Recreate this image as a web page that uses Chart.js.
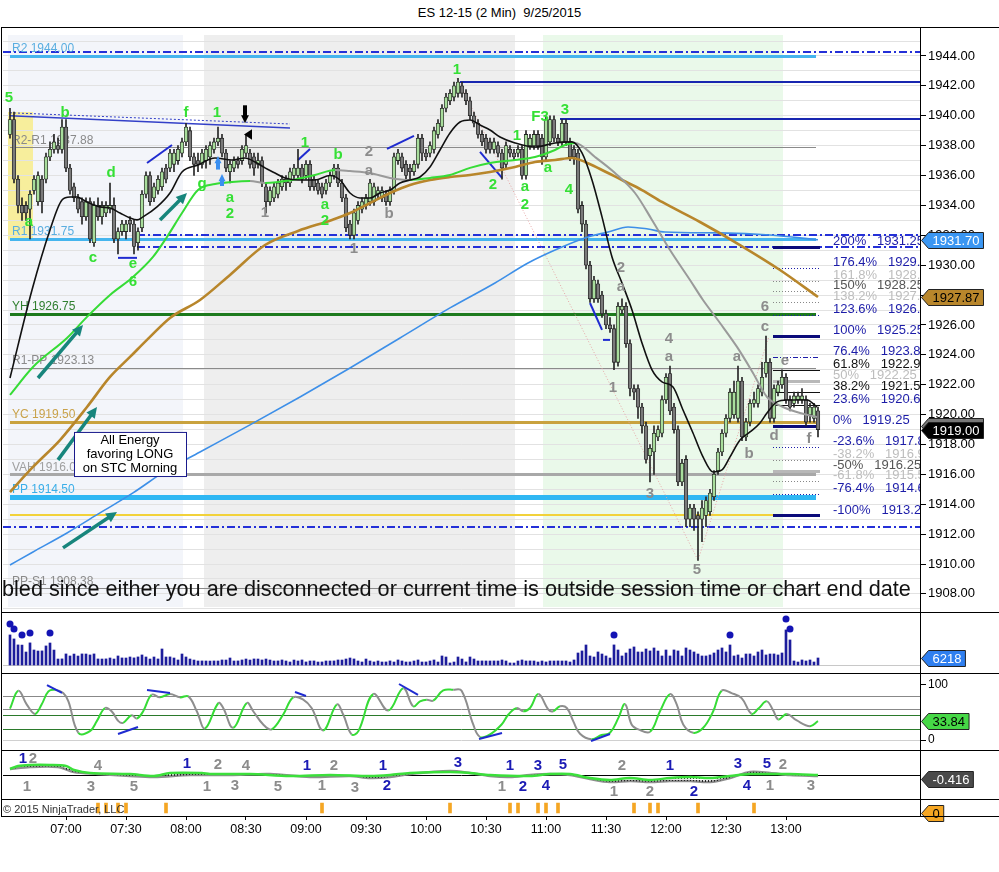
<!DOCTYPE html>
<html>
<head>
<meta charset="utf-8">
<title>ES 12-15 (2 Min) 9/25/2015</title>
<script src="https://cdn.jsdelivr.net/npm/chart.js@4.4.1/dist/chart.umd.min.js"></script>
<style>
  body { margin: 0; background: #fff; font-family: "Liberation Sans", Arial, sans-serif; }
  #wrap { position: relative; width: 999px; height: 872px; overflow: hidden; }
  #title { position: absolute; top: 5px; left: 0; width: 999px; text-align: center; font-size: 13px; }
  canvas { position: absolute; left: 3px; }
  .hl { position: absolute; left: 1px; width: 998px; height: 1px; background: #000; }
  .vl { position: absolute; left: 1px; top: 27px; width: 1px; height: 790px; background: #000; }
</style>
</head>
<body>
<div id="wrap">
  <div id="title">ES 12-15 (2 Min)&nbsp; 9/25/2015</div>
  <canvas id="price" width="996" height="585" style="top:27px"></canvas>
  <canvas id="volume" width="996" height="61" style="top:612px"></canvas>
  <canvas id="osc" width="996" height="77" style="top:673px"></canvas>
  <canvas id="hist" width="996" height="49" style="top:750px"></canvas>
  <canvas id="marks" width="996" height="50" style="top:799px"></canvas>
  <div class="hl" style="top:27px"></div>
  <div class="hl" style="top:612px"></div>
  <div class="hl" style="top:673px"></div>
  <div class="hl" style="top:750px"></div>
  <div class="hl" style="top:799px"></div>
  <div class="hl" style="top:816px"></div>
  <div class="vl"></div>
</div>
<script>
// 2 minute bars, first one at 06:32
const barStart = 6 * 60 + 32;
const barMinutes = 2;
const timeLabels = ['07:00', '07:30', '08:00', '08:30', '09:00', '09:30', '10:00', '10:30', '11:00', '11:30', '12:00', '12:30', '13:00'];

const opens = [
  1938.75, 1939.75, 1935.75, 1934.0, 1934.0, 1933.75, 1935.0, 1934.25, 1935.75, 1935.75,
  1937.25, 1937.75, 1938.0, 1937.75, 1939.25, 1936.5, 1935.25, 1934.5, 1934.25, 1933.25,
  1934.25, 1931.5, 1934.0, 1933.25, 1933.5, 1933.75, 1934.0, 1931.75, 1932.25, 1932.25,
  1933.0, 1932.75, 1931.5, 1932.5, 1934.75, 1936.0, 1934.5, 1935.0, 1935.25, 1936.5,
  1936.5, 1936.75, 1937.0, 1937.5, 1938.25, 1939.0, 1937.25, 1937.0, 1936.75, 1937.0,
  1937.25, 1937.75, 1938.25, 1938.5, 1937.5, 1936.25, 1936.5, 1937.0, 1937.0, 1937.5,
  1937.5, 1937.25, 1936.75, 1937.0, 1935.25, 1934.25, 1934.5, 1934.75, 1935.25, 1935.75,
  1935.5, 1936.0, 1936.0, 1936.5, 1936.0, 1936.75, 1935.75, 1935.5, 1935.25, 1935.0,
  1935.5, 1936.0, 1936.5, 1935.5, 1934.5, 1932.75, 1932.0, 1933.0, 1933.75, 1934.0,
  1934.25, 1934.25, 1934.75, 1934.5, 1934.75, 1934.25, 1935.0, 1937.0, 1937.25, 1936.75,
  1936.5, 1936.25, 1936.75, 1938.5, 1937.5, 1937.5, 1937.75, 1938.75, 1939.25, 1940.5,
  1941.0, 1941.25, 1941.5, 1942.0, 1941.5, 1941.0, 1940.0, 1939.5, 1938.75, 1938.5,
  1938.25, 1937.75, 1938.0, 1937.5, 1936.75, 1937.75, 1937.5, 1937.5, 1937.75, 1936.0,
  1938.0, 1938.0, 1938.75, 1938.5, 1937.25, 1938.25, 1939.75, 1938.5, 1938.25, 1939.5,
  1938.25, 1937.75, 1937.5, 1934.0, 1932.75, 1930.0, 1927.75, 1928.75, 1928.0, 1926.75,
  1926.0, 1925.75, 1923.5, 1927.0, 1927.25, 1924.75, 1921.75, 1921.75, 1920.5, 1919.25,
  1917.25, 1917.5, 1918.5, 1918.75, 1921.0, 1922.75, 1920.5, 1919.0, 1915.5, 1917.0,
  1913.0, 1913.75, 1913.25, 1913.0, 1913.25, 1913.5, 1914.5, 1916.25, 1917.5, 1918.75,
  1919.75, 1920.0, 1919.75, 1922.25, 1918.5, 1919.5, 1920.75, 1920.75, 1921.5, 1922.75,
  1923.5, 1919.75, 1921.5, 1922.0, 1922.5, 1921.0, 1920.75, 1921.0, 1921.0, 1921.0,
  1920.0, 1919.75, 1920.25
];
const highs = [
  1940.5, 1940.25, 1936.0, 1934.5, 1934.25, 1935.0, 1936.0, 1936.25, 1936.0, 1937.5,
  1938.25, 1938.75, 1938.5, 1939.75, 1939.75, 1936.75, 1935.5, 1934.75, 1934.5, 1934.5,
  1934.5, 1934.25, 1934.5, 1934.25, 1934.25, 1935.5, 1934.5, 1932.5, 1933.0, 1933.0,
  1933.25, 1933.0, 1932.5, 1935.0, 1936.25, 1936.25, 1935.5, 1936.0, 1936.5, 1936.75,
  1937.75, 1937.75, 1938.0, 1938.5, 1939.5, 1939.25, 1937.5, 1937.5, 1937.75, 1938.0,
  1938.25, 1938.5, 1939.25, 1938.75, 1937.75, 1937.0, 1937.25, 1937.25, 1938.0, 1938.75,
  1937.75, 1937.5, 1937.5, 1937.25, 1935.5, 1935.25, 1935.5, 1935.75, 1936.0, 1936.0,
  1936.5, 1936.75, 1937.75, 1936.75, 1937.0, 1937.0, 1936.0, 1935.75, 1935.5, 1935.75,
  1936.25, 1936.75, 1936.75, 1935.75, 1934.75, 1933.0, 1933.75, 1934.25, 1934.5, 1934.75,
  1935.75, 1935.5, 1935.25, 1935.25, 1935.0, 1935.25, 1937.5, 1937.75, 1937.5, 1937.0,
  1936.75, 1937.0, 1938.75, 1938.75, 1937.75, 1938.25, 1939.25, 1939.75, 1940.75, 1941.5,
  1941.75, 1942.25, 1942.5, 1942.25, 1941.75, 1941.25, 1940.25, 1939.75, 1939.0, 1938.75,
  1938.5, 1938.5, 1938.25, 1937.75, 1938.25, 1938.0, 1937.75, 1938.0, 1938.0, 1939.0,
  1938.75, 1939.0, 1939.0, 1938.75, 1940.0, 1940.0, 1940.0, 1938.75, 1939.75, 1939.75,
  1938.5, 1938.0, 1937.75, 1934.25, 1933.0, 1930.25, 1929.25, 1929.0, 1928.25, 1927.0,
  1926.5, 1926.0, 1927.5, 1927.75, 1927.5, 1925.0, 1922.0, 1922.0, 1920.75, 1919.5,
  1918.0, 1919.25, 1919.25, 1921.25, 1922.75, 1923.25, 1920.75, 1919.25, 1917.0, 1917.25,
  1914.0, 1914.0, 1913.5, 1914.25, 1914.5, 1915.0, 1916.25, 1917.75, 1919.0, 1920.0,
  1921.75, 1922.25, 1923.25, 1922.5, 1919.75, 1921.0, 1921.5, 1922.0, 1923.5, 1925.25,
  1923.75, 1922.0, 1922.25, 1923.0, 1922.75, 1921.25, 1921.5, 1921.5, 1921.75, 1921.25,
  1920.75, 1920.75, 1920.5
];
const lows = [
  1938.5, 1935.5, 1933.5, 1933.0, 1933.0, 1931.75, 1934.75, 1934.0, 1933.5, 1935.5,
  1937.0, 1937.5, 1937.5, 1937.5, 1936.25, 1934.75, 1934.25, 1933.5, 1932.75, 1933.0,
  1931.5, 1931.25, 1933.0, 1932.75, 1933.25, 1933.5, 1931.5, 1930.75, 1932.0, 1931.75,
  1932.25, 1930.75, 1931.0, 1932.25, 1934.5, 1934.0, 1934.25, 1934.75, 1935.0, 1935.5,
  1936.25, 1936.25, 1936.75, 1937.25, 1938.0, 1937.0, 1936.0, 1936.25, 1936.5, 1936.5,
  1936.75, 1937.5, 1938.0, 1937.25, 1936.25, 1935.5, 1936.25, 1936.5, 1936.75, 1937.25,
  1936.5, 1936.0, 1936.5, 1935.25, 1933.5, 1934.0, 1934.25, 1934.5, 1935.0, 1935.0,
  1935.25, 1935.75, 1935.75, 1935.5, 1935.75, 1935.0, 1935.0, 1934.75, 1934.5, 1934.75,
  1935.25, 1935.75, 1935.25, 1934.25, 1932.25, 1931.75, 1931.75, 1932.75, 1933.5, 1933.75,
  1934.0, 1934.0, 1934.5, 1934.25, 1934.0, 1934.0, 1934.75, 1936.75, 1936.25, 1935.75,
  1935.75, 1936.0, 1936.5, 1937.0, 1937.0, 1937.25, 1937.5, 1938.5, 1939.0, 1940.25,
  1940.75, 1941.0, 1941.25, 1941.25, 1940.75, 1939.75, 1939.25, 1938.5, 1938.0, 1937.5,
  1937.5, 1937.5, 1937.25, 1935.75, 1936.5, 1937.25, 1937.0, 1937.25, 1935.75, 1935.75,
  1937.75, 1937.75, 1937.75, 1936.75, 1937.0, 1938.0, 1938.25, 1938.0, 1938.0, 1938.0,
  1937.0, 1936.75, 1933.5, 1932.25, 1929.75, 1927.5, 1927.5, 1927.5, 1926.5, 1925.75,
  1925.5, 1923.0, 1923.25, 1926.75, 1924.5, 1921.25, 1921.0, 1919.75, 1918.75, 1916.75,
  1915.5, 1916.0, 1918.25, 1918.5, 1920.75, 1920.0, 1918.75, 1915.25, 1915.25, 1912.5,
  1912.5, 1912.25, 1910.25, 1911.5, 1912.5, 1913.25, 1914.25, 1916.0, 1917.25, 1918.5,
  1919.5, 1919.75, 1919.5, 1918.25, 1918.25, 1919.25, 1920.5, 1920.5, 1921.25, 1922.5,
  1919.5, 1919.5, 1921.25, 1921.75, 1920.75, 1920.25, 1920.5, 1920.75, 1920.75, 1919.25,
  1919.5, 1919.5, 1918.5
];
const closes = [
  1939.75, 1935.75, 1934.0, 1933.5, 1933.5, 1934.75, 1935.75, 1936.0, 1934.25, 1937.25,
  1937.75, 1938.25, 1937.75, 1939.25, 1936.5, 1935.0, 1934.5, 1933.75, 1933.25, 1934.25,
  1931.75, 1934.0, 1933.25, 1934.0, 1934.0, 1934.0, 1931.75, 1932.25, 1932.75, 1932.75,
  1932.75, 1931.25, 1932.25, 1934.75, 1936.0, 1934.25, 1935.25, 1935.75, 1936.25, 1935.75,
  1937.5, 1937.5, 1937.75, 1938.25, 1939.25, 1937.25, 1936.75, 1936.75, 1937.5, 1937.75,
  1938.0, 1938.25, 1938.5, 1937.5, 1936.5, 1936.75, 1937.0, 1936.75, 1937.75, 1938.0,
  1936.75, 1936.5, 1937.0, 1935.5, 1934.25, 1935.0, 1935.25, 1935.5, 1935.75, 1935.5,
  1936.25, 1936.5, 1936.5, 1935.75, 1936.75, 1935.25, 1935.25, 1935.0, 1934.75, 1935.5,
  1936.0, 1936.5, 1935.5, 1934.5, 1932.5, 1932.0, 1933.5, 1934.0, 1934.25, 1934.5,
  1935.5, 1935.25, 1935.0, 1935.0, 1934.25, 1935.0, 1937.25, 1937.5, 1936.5, 1936.0,
  1936.25, 1936.75, 1938.5, 1937.5, 1937.25, 1938.0, 1939.0, 1939.5, 1940.5, 1941.25,
  1941.5, 1942.0, 1942.25, 1941.5, 1941.0, 1940.0, 1939.5, 1938.75, 1938.25, 1937.75,
  1937.75, 1938.25, 1937.5, 1936.5, 1938.0, 1937.5, 1937.25, 1937.75, 1936.0, 1938.75,
  1938.5, 1938.75, 1938.0, 1937.25, 1939.75, 1939.75, 1938.5, 1938.25, 1939.5, 1938.25,
  1937.25, 1937.25, 1933.75, 1932.75, 1930.0, 1927.75, 1929.0, 1927.75, 1926.75, 1926.0,
  1925.75, 1923.5, 1927.25, 1927.25, 1924.75, 1921.75, 1921.5, 1920.5, 1919.25, 1917.0,
  1917.75, 1918.75, 1919.0, 1921.0, 1922.5, 1920.25, 1919.0, 1915.5, 1916.75, 1913.0,
  1913.75, 1913.0, 1913.0, 1913.75, 1914.25, 1914.75, 1916.0, 1917.5, 1918.75, 1919.75,
  1921.5, 1921.5, 1922.25, 1918.5, 1919.5, 1920.75, 1921.0, 1921.75, 1922.5, 1923.5,
  1919.75, 1921.75, 1922.0, 1922.5, 1921.0, 1920.5, 1921.25, 1921.25, 1921.25, 1919.5,
  1920.5, 1920.5, 1919.0
];
const volumes = [
  26650, 23100, 17800, 17650, 11500, 19600, 13300, 12400, 12500, 16900,
  19500, 13250, 5300, 5400, 9800, 8000, 9700, 7950, 9800, 9750,
  8900, 9800, 5350, 5300, 5400, 6200, 5300, 8000, 6250, 6200,
  7100, 6300, 7150, 8900, 7100, 5300, 7100, 5350, 14200, 7100,
  7150, 6200, 4450, 9750, 7100, 5300, 4400, 3550, 3600, 3550,
  3500, 3600, 3550, 4450, 4400, 6200, 3550, 3600, 4450, 5300,
  4400, 5350, 5300, 4450, 5300, 4400, 3550, 3600, 4450, 3550,
  2650, 4400, 3550, 4450, 2700, 3550, 3600, 2650, 2700, 3550,
  3550, 3600, 4450, 4400, 5300, 6200, 5350, 3550, 2650, 5300,
  3550, 2700, 3550, 2650, 2700, 3600, 2650, 4450, 3550, 2650,
  2700, 3550, 4450, 2650, 2700, 3550, 4450, 2650, 8000, 7100,
  1800, 2650, 7100, 5300, 2700, 7100, 5300, 3550, 3600, 3550,
  3550, 3600, 3550, 4450, 3550, 1800, 1750, 3550, 4450, 3550,
  3600, 3550, 2650, 3550, 2700, 3550, 3550, 3600, 3550, 3550,
  2650, 4450, 10650, 12450, 17750, 8000, 7100, 11550, 9750, 8000,
  6200, 17800, 13300, 8000, 10650, 14200, 16000, 11550, 11500, 14200,
  12450, 15100, 12400, 8000, 13300, 8000, 13350, 12450, 8000, 15100,
  13300, 11550, 9750, 8000, 8000, 8900, 10650, 13300, 15100, 11550,
  17750, 8000, 8900, 6200, 9750, 9800, 8000, 11550, 13300, 8900,
  9750, 9800, 8900, 10650, 31100, 22200, 3550, 2650, 4450, 3550,
  4450, 2650, 6218
];
const volumeDotBars = [0, 1, 3, 5, 10, 151, 180, 194, 195];
const volumeDotValues = [36400, 32000, 26600, 28400, 28400, 26600, 26600, 40800, 32000];

// moving averages as [bar, price]
const fastAvg = [[0,1922.45],[5.5,1928.34],[10,1932.36],[13,1934.36],[15,1934.56],[16.75,1934.56],[19.25,1934.23],[22.5,1933.9],[25,1933.83],[27.5,1933.49],[30,1933.16],[31.75,1933.03],[33.25,1933.23],[36.75,1933.9],[40,1934.83],[43,1936.24],[47,1936.71],[51.25,1937.17],[55.5,1937.04],[58.75,1937.17],[61.25,1936.91],[63.75,1936.51],[66.25,1936.17],[68.75,1935.84],[72,1935.7],[76.25,1935.7],[80,1936.0],[82.5,1935.7],[85,1934.83],[87.5,1934.5],[90,1934.5],[92.5,1934.83],[95,1935.03],[97.5,1935.5],[100,1935.7],[102.5,1935.9],[105,1936.57],[107.5,1937.71],[110,1938.85],[112.5,1939.58],[115,1939.72],[117.5,1939.38],[120,1939.05],[122.5,1938.58],[126.25,1938.18],[131.25,1937.91],[136.25,1938.18],[140.5,1938.25],[143,1937.51],[145.5,1935.7],[148,1933.23],[150.5,1930.55],[153,1928.81],[155.5,1927.0],[158,1924.79],[160.5,1922.99],[163,1922.19],[165.75,1921.85],[168.25,1920.31],[170.75,1918.77],[173.25,1917.17],[175.75,1916.16],[178,1916.3],[180,1917.17],[182.5,1918.3],[185,1918.84],[187.5,1919.44],[189.25,1920.11],[191.75,1920.85],[194.25,1920.98],[196.75,1920.98],[199.25,1920.98],[201.75,1920.51]];
const midAvg = [[0,1921.32],[5.75,1923.19],[14.25,1925.13],[19.25,1926.54],[25,1928.01],[30.75,1929.21],[35.75,1930.55],[39.25,1931.89],[43,1933.49],[47,1935.03],[51.25,1935.43],[55.5,1935.57],[60,1935.63],[63.75,1935.5],[70.5,1935.7],[76.25,1936.04],[81.25,1936.37],[85,1936.3],[90,1936.17],[95,1935.84],[100,1935.7],[105,1935.84],[110,1936.04],[115,1936.51],[120,1936.84],[126.25,1937.04],[131.25,1937.24],[136.25,1937.71],[138.75,1938.04],[141.25,1938.18],[146.25,1937.24],[151.25,1936.17],[156.25,1934.83],[160.5,1933.03],[165,1931.02],[170,1929.01],[173.25,1927.67],[177.5,1926.13],[181.75,1924.53],[185.75,1922.79],[189.25,1921.18],[193.25,1920.51],[197.5,1920.11],[201.75,1919.84]];
const slowAvg = [[0,1914.82],[5.75,1916.5],[12.5,1918.3],[19.25,1920.51],[25,1922.52],[30,1923.86],[35,1925.2],[40,1926.47],[47.5,1927.67],[55,1929.35],[63.75,1931.35],[72,1932.29],[80.5,1933.03],[85,1933.49],[90,1934.16],[95,1934.83],[100,1935.37],[105,1935.7],[110,1935.9],[115,1936.04],[120,1936.24],[126.25,1936.57],[131.25,1936.91],[136.25,1937.04],[140.5,1937.17],[143.75,1936.91],[148,1936.37],[153,1935.7],[158,1935.03],[163,1934.23],[172.5,1932.89],[182.5,1931.35],[192.5,1929.68],[202,1927.87]];
const longAvg = [[0,1909.94],[5.75,1910.81],[14.25,1912.08],[22.5,1913.42],[30.75,1914.76],[39.25,1916.3],[47.5,1917.5],[60,1919.31],[72.5,1921.18],[85,1923.12],[97.5,1925.13],[110,1927.14],[121.25,1928.81],[129.5,1930.15],[138,1931.22],[144.5,1931.89],[149.5,1932.22],[154.5,1932.56],[159.5,1932.42],[163.75,1932.22],[177.5,1932.16],[190,1932.02],[202,1931.7]];

const levelNames = ['R2', 'R2-R1', 'R1', 'YH', 'R1-PP', 'YC', 'VAH', 'PP', 'PP-S1'];
const levelValues = [1944.00, 1937.88, 1931.75, 1926.75, 1923.13, 1919.50, 1916.00, 1914.50, 1908.38];
const dashDotLevels = [1944.25, 1932.0, 1931.25, 1912.5];
const fibPercents = [200, 176.4, 161.8, 150, 138.2, 123.6, 100, 76.4, 61.8, 50, 38.2, 23.6, 0, -23.6, -38.2, -50, -61.8, -76.4, -100];
const fibPrices = [1931.25, 1929.83, 1928.96, 1928.25, 1927.54, 1926.67, 1925.25, 1923.83, 1922.96, 1922.25, 1921.54, 1920.67, 1919.25, 1917.83, 1916.96, 1916.25, 1915.54, 1914.67, 1913.25];

// wave labels on the price panel: [text, bar, price]
const greenMarks = [['5',-0.25,1941.19],['a',4.75,1932.89],['b',13.75,1940.19],['c',20.75,1930.48],['d',25.25,1936.17],['e',30.75,1930.08],['6',30.75,1928.88],['f',44,1940.19],['1',51.75,1940.19],['g',48,1935.43],['a',55,1934.5],['2',55,1933.43],['1',73.75,1938.18],['b',82,1937.38],['a',78.75,1934.03],['2',78.75,1932.96],['1',111.75,1943.06],['2',120.75,1935.37],['1',126.75,1938.65],['a',128.75,1935.24],['2',128.75,1934.03],['F3',132.5,1939.92],['3',138.75,1940.39],['a',134.5,1936.51],['4',139.75,1935.03]];
const grayMarks = [['1',63.75,1933.49],['2',89.75,1937.57],['a',89.75,1936.3],['b',94.75,1933.43],['1',86,1931.08],['2',152.75,1929.81],['a',152.75,1928.54],['1',150.75,1921.78],['3',160,1914.69],['4',164.75,1925.06],['a',164.75,1923.86],['5',171.75,1909.6],['a',181.75,1923.86],['b',184.75,1917.37],['6',188.75,1927.2],['c',188.75,1925.87],['e',193.75,1923.59],['d',191,1918.57],['f',199.75,1918.37]];

// oscillator, sampled [bar, value]
const oscValues = [[0,56.6],[2.1,88.8],[4.2,63.8],[6.25,47],[7.9,63.8],[9.6,87.5],[11.25,90.5],[13.3,84.5],[14.6,69.6],[17.1,13],[20,16],[21.7,34],[23.75,57.7],[25.4,51.8],[27.1,34],[28.3,31],[30.4,44.6],[31.7,38.8],[33.3,51.8],[35.4,81.6],[37.5,76.8],[40,82.7],[42.5,76.8],[44.6,78.6],[46.7,51.8],[48.75,20.9],[52.1,66.6],[53.3,57.7],[55.8,22],[59.2,66.6],[60.8,51.8],[63.3,28],[65.4,19.1],[68.3,45.9],[70.8,76.8],[73.3,72.7],[75.4,57.7],[78.3,17.3],[81.7,63.8],[83.3,45.9],[85.4,10.2],[87.1,16],[90.8,82.7],[94.6,53],[98.3,93.4],[100.8,60.7],[102.5,69.6],[104.2,72.7],[105.8,70.9],[108.3,89.3],[110.8,90.5],[112.9,88.8],[115.8,28],[117.5,5.4],[120,10.2],[122.9,28],[124.6,45.9],[126.7,57.7],[128.3,51.8],[130,57.7],[132.1,82.7],[134.6,54.8],[135.8,51.8],[137.5,60.7],[139.2,57.7],[140.8,34],[142.5,11.3],[145.4,1.3],[147.9,8.9],[150,13],[152.1,39.8],[153.75,64.8],[155.4,28],[157.1,19.1],[160,14.8],[162.5,51.8],[165,82.7],[166.7,63.8],[168.3,28],[170.8,13],[173.3,22],[175.8,51.8],[177.9,88.8],[180.4,84.5],[182.9,75.5],[185.4,47],[187.1,56.6],[189.2,69.6],[190.8,53],[192.1,37],[194.2,47],[196.7,35.2],[200,25],[202,33.84]];
const oscLevels = [80, 55, 45, 20, 0];
const oscDivergence = [[9.25,99,13,84.7],[27,10.8,32,23.4],[34.25,90.1,40,84.7],[71.25,86.5,74,79.3],[97.25,100.9,102,81.1],[117.25,1.8,123,12.6],[145.25,-1.8,150,10.8]];

// lower swing panel, sampled [bar, value]
const swingGreen = [[0,0.6],[2,0.9],[5,1.0],[10,1.0],[14,0.9],[16,0.5],[20,0.2],[30,0.1],[36,-0.1],[40,0.2],[48,0.2],[50,0.1],[60,0.1],[70,-0.1],[80,0.0],[90,-0.1],[95,0.0],[100,0.2],[110,0.3],[115,0.2],[120,0.0],[130,-0.1],[135,0.1],[140,0.1],[145,-0.3],[150,-0.5],[155,-0.3],[160,-0.5],[165,-0.3],[170,-0.2],[175,-0.3],[180,-0.1],[185,0.1],[190,0.1],[195,0.1],[202,0.0]];
const swingGray = [[0,0.6],[5,0.8],[12,0.8],[16,0.3],[22,0.1],[30,-0.1],[36,-0.2],[45,0.0],[55,0.0],[65,0.1],[75,-0.2],[85,-0.1],[90,-0.3],[95,-0.2],[100,0.1],[110,0.4],[115,0.2],[120,-0.1],[125,-0.2],[130,0.0],[135,0.1],[140,0.0],[145,-0.4],[150,-0.7],[155,-0.6],[160,-0.7],[165,-0.6],[170,-0.6],[175,-0.7],[180,-0.3],[185,0.3],[190,0.2],[195,0.0],[202,-0.1]];
const swingLabels = [['1',3.25,1.6,'b'],['2',5.75,1.6,'g'],['1',4.25,-1.2,'g'],['4',22,0.9,'g'],['3',20.25,-1.2,'g'],['5',31,-1.2,'g'],['1',44.25,1.1,'b'],['2',52,1.0,'g'],['4',59,0.9,'g'],['1',49.25,-1.2,'g'],['3',56.25,-1.1,'g'],['5',67,-1.2,'g'],['1',74.25,0.9,'b'],['2',81,0.9,'g'],['1',78,-1.1,'g'],['3',86.25,-1.3,'g'],['1',93.25,0.9,'b'],['2',94.25,-1.1,'b'],['3',112,1.2,'b'],['1',125,0.9,'b'],['1',123,-1.2,'g'],['2',128.25,-1.2,'b'],['3',132,0.9,'b'],['4',134,-1.1,'b'],['5',138.25,1.0,'b'],['2',153,0.9,'g'],['1',151,-1.7,'g'],['1',165,0.9,'b'],['2',160,-1.7,'g'],['2',171,-1.7,'b'],['3',182,1.1,'b'],['4',184.25,-1.1,'b'],['5',189.25,1.1,'b'],['2',193.25,1.0,'g'],['1',190,-1.1,'g'],['3',200.25,-1.1,'g']];

const signalBars = [22, 24, 27, 29, 39, 78, 110, 125, 127, 132, 134, 137, 156, 160, 162, 172, 186];

// ---------------------------------------------------------------
const FONT = '"Liberation Sans", Arial, sans-serif';
Chart.defaults.font.family = FONT;
const X_MIN = -1.75, X_MAX = 227.5;
const bars = opens.map((_, i) => i);
const xy = a => a.map(([x, y]) => ({ x, y }));
const toMin = s => { const [h, m] = s.split(':').map(Number); return h * 60 + m; };
const timeOf = b => {
  const m = barStart + b * barMinutes;
  return String(Math.floor(m / 60)).padStart(2, '0') + ':' + String(m % 60).padStart(2, '0');
};
const last = a => a[a.length - 1];
// keep tick labels from shrinking the plot area
const noPad = s => { s.paddingTop = 0; s.paddingBottom = 0; s.paddingLeft = 0; s.paddingRight = 0; };

function baseOptions(ymin, ymax, yExtra) {
  return {
    responsive: false, devicePixelRatio: 1, animation: false,
    layout: { padding: 0, autoPadding: false },
    plugins: { legend: { display: false }, tooltip: { enabled: false } },
    scales: {
      x: { type: 'linear', min: X_MIN, max: X_MAX, offset: false, display: false },
      y: Object.assign({
        position: 'right', min: ymin, max: ymax,
        afterFit: s => { s.width = 79; noPad(s); },
        border: { color: '#000' },
        grid: { drawOnChartArea: false, drawTicks: false },
        ticks: { display: false }
      }, yExtra || {})
    }
  };
}

function clipArea(chart) {
  const a = chart.chartArea, ctx = chart.ctx;
  ctx.save();
  ctx.beginPath();
  ctx.rect(a.left, a.top, a.right - a.left, a.bottom - a.top);
  ctx.clip();
}

function hline(chart, v, x0, x1, color, width, dash) {
  const ctx = chart.ctx, y = Math.round(chart.scales.y.getPixelForValue(v)) + (width % 2 ? 0.5 : 0);
  ctx.beginPath();
  ctx.setLineDash(dash || []);
  ctx.strokeStyle = color; ctx.lineWidth = width;
  ctx.moveTo(x0, y); ctx.lineTo(x1, y); ctx.stroke();
  ctx.setLineDash([]);
}

function arrow(ctx, x0, y0, x1, y1, color, width, head) {
  const ang = Math.atan2(y1 - y0, x1 - x0);
  ctx.strokeStyle = color; ctx.fillStyle = color; ctx.lineWidth = width;
  ctx.beginPath();
  ctx.moveTo(x0, y0);
  ctx.lineTo(x1 - Math.cos(ang) * head * 0.8, y1 - Math.sin(ang) * head * 0.8);
  ctx.stroke();
  ctx.beginPath();
  ctx.moveTo(x1, y1);
  ctx.lineTo(x1 - head * Math.cos(ang - 0.45), y1 - head * Math.sin(ang - 0.45));
  ctx.lineTo(x1 - head * Math.cos(ang + 0.45), y1 - head * Math.sin(ang + 0.45));
  ctx.closePath(); ctx.fill();
}

function axisBox(chart, value, text, bg, fg) {
  const ctx = chart.ctx, a = chart.chartArea;
  const y = Math.round(chart.scales.y.getPixelForValue(value)) + 0.5;
  ctx.save();
  ctx.font = '13px ' + FONT;
  const w = ctx.measureText(text).width + 8;
  const x0 = a.right + 1.5, x1 = x0 + 7 + w;
  ctx.beginPath();
  ctx.moveTo(x0, y); ctx.lineTo(x0 + 7, y - 8); ctx.lineTo(x1, y - 8);
  ctx.lineTo(x1, y + 8); ctx.lineTo(x0 + 7, y + 8); ctx.closePath();
  ctx.fillStyle = bg; ctx.fill();
  ctx.strokeStyle = '#222'; ctx.lineWidth = 1; ctx.stroke();
  ctx.fillStyle = fg; ctx.textBaseline = 'middle'; ctx.textAlign = 'left';
  ctx.fillText(text, x0 + 11, y + 0.5);
  ctx.restore();
}

// ---------------- price panel ----------------
const levelStyle = {
  'R2':    { color: '#45b5ee', text: '#5aaee0', width: 3 },
  'R2-R1': { color: '#8a8a8a', text: '#8a8a8a', width: 1 },
  'R1':    { color: '#45b5ee', text: '#5aaee0', width: 3 },
  'YH':    { color: '#1d7a1d', text: '#2f7f2f', width: 3 },
  'R1-PP': { color: '#8a8a8a', text: '#8a8a8a', width: 1 },
  'YC':    { color: '#c9a23e', text: '#c9a24a', width: 3 },
  'VAH':   { color: '#a8a8a8', text: '#a0a0a0', width: 3 },
  'PP':    { color: '#2fb7f3', text: '#3aaee8', width: 5 },
  'PP-S1': { color: '#8a8a8a', text: '#8a8a8a', width: 1 }
};
const fibStyle = p => {
  if ([161.8, 138.2, 50, -38.2, -61.8].includes(p)) return '#bdbdbd';
  if ([150, -50].includes(p)) return '#555';
  if ([61.8, 38.2].includes(p)) return '#111';
  return '#1c1ca8';
};
const fibLine = p => {
  if ([200, 100, 0, -100].includes(p)) return ['#0b0b7a', 3, []];
  if ([50, -50].includes(p)) return ['#b8b8b8', 3, []];
  if ([61.8, 38.2, 23.6].includes(p)) return ['#111', 1, []];
  if (p === 76.4) return ['#1c1ca8', 1, [5, 2, 1, 2]];
  if ([161.8, 150, 138.2, -38.2, -61.8].includes(p)) return ['#888', 1, [1, 2]];
  return ['#1c1ca8', 1, [1, 2]];
};

const priceOverlay = {
  id: 'priceOverlay',
  beforeDraw(chart) {
    const { ctx, chartArea: a, scales: { x, y } } = chart;
    ctx.save();
    const top = a.top + 8, bot = a.bottom - 5;
    [[-0.5, 43.25, '#f3f5fa'], [48.5, 126.25, '#eeeeee'], [133.25, 193.25, '#eaf9ea']].forEach(([b0, b1, c]) => {
      ctx.fillStyle = c;
      ctx.fillRect(x.getPixelForValue(b0), top, x.getPixelForValue(b1) - x.getPixelForValue(b0), bot - top);
    });
    ctx.fillStyle = '#f7ee9c';
    const y0 = y.getPixelForValue(1940.25), y1 = y.getPixelForValue(1931.7);
    ctx.fillRect(x.getPixelForValue(-0.5), y0, x.getPixelForValue(5.75) - x.getPixelForValue(-0.5), y1 - y0);
    ctx.restore();
  },
  beforeDatasetsDraw(chart) {
    const { ctx, chartArea: a, scales: { x, y } } = chart;
    clipArea(chart);
    const px = b => x.getPixelForValue(b);
    // dash-dot blue levels
    dashDotLevels.forEach((v, i) => {
      const from = (i === 1 || i === 2) ? px(31.75) : a.left;
      hline(chart, v, from, a.right, '#2430d8', 2, [8, 3, 2, 3]);
    });
    // session highs carried right
    hline(chart, 1942.25, px(112.5), a.right, '#1826b0', 2);
    hline(chart, 1939.75, px(137.5), a.right, '#1826b0', 2);
    // pivot levels and their labels
    ctx.font = '12px ' + FONT;
    ctx.textBaseline = 'bottom';
    levelNames.forEach((n, i) => {
      const st = levelStyle[n];
      hline(chart, levelValues[i], px(0), px(201.5), st.color, st.width);
      ctx.fillStyle = st.text;
      ctx.fillText(n + ' ' + levelValues[i].toFixed(2), px(0.5), y.getPixelForValue(levelValues[i]) - 1);
    });
    hline(chart, 1913.25, px(0), px(201.5), '#f2d23a', 2);
    // fib ladder on the right
    fibPercents.forEach((p, i) => {
      const [c, w, d] = fibLine(p);
      hline(chart, fibPrices[i], px(190.75), px(202.5), c, w, d);
    });
    // thin trend lines
    ctx.lineWidth = 2; ctx.strokeStyle = '#1f2bd0';
    [[34.25,1936.84,40.5,1938.04],[72,1937.04,75,1937.78],[94.25,1937.78,101,1938.65],[117.5,1937.58,123,1935.84],
     [145,1927.47,148,1925.67],[148.25,1925,150,1925],[27,1930.49,31.75,1930.49]].forEach(([b0, p0, b1, p1]) => {
      ctx.beginPath(); ctx.moveTo(px(b0), y.getPixelForValue(p0)); ctx.lineTo(px(b1), y.getPixelForValue(p1)); ctx.stroke();
    });
    ctx.lineWidth = 1.5; ctx.strokeStyle = '#3340c8';
    ctx.beginPath(); ctx.moveTo(px(0), y.getPixelForValue(1940.0)); ctx.lineTo(px(70), y.getPixelForValue(1939.18)); ctx.stroke();
    ctx.setLineDash([2, 2]); ctx.lineWidth = 1;
    ctx.beginPath(); ctx.moveTo(px(0), y.getPixelForValue(1940.2)); ctx.lineTo(px(70), y.getPixelForValue(1939.45)); ctx.stroke();
    // faint swing zig-zag
    ctx.strokeStyle = '#e7a7a7'; ctx.setLineDash([1, 2]);
    ctx.beginPath();
    ctx.moveTo(px(111.75), y.getPixelForValue(1942.5));
    ctx.lineTo(px(172), y.getPixelForValue(1910.25));
    ctx.lineTo(px(189.75), y.getPixelForValue(1925.25));
    ctx.stroke();
    ctx.setLineDash([]);
    ctx.restore();
  },
  afterDatasetsDraw(chart) {
    const { ctx, chartArea: a, scales: { x, y } } = chart;
    const px = b => x.getPixelForValue(b), py = v => y.getPixelForValue(v);
    clipArea(chart);
    ctx.textAlign = 'center'; ctx.textBaseline = 'middle';
    ctx.font = 'bold 15px ' + FONT;
    ctx.fillStyle = '#35e035';
    greenMarks.forEach(([t, b, v]) => ctx.fillText(t, px(b), py(v)));
    ctx.fillStyle = '#8c8c8c';
    grayMarks.forEach(([t, b, v]) => ctx.fillText(t, px(b), py(v)));
    // teal arrows
    [[7,1922.45,18.25,1926.0],[12,1916.97,21.75,1920.51],[13.25,1911.08,26.75,1913.49],[37.5,1933.03,44.25,1934.83]].forEach(([b0, p0, b1, p1]) =>
      arrow(ctx, px(b0), py(p0), px(b1), py(p1), '#17857c', 3.5, 12));
    arrow(ctx, px(52), py(1936.4), px(52), py(1937.3), '#3a8ff0', 4, 8);
    arrow(ctx, px(53), py(1935.3), px(53), py(1936.1), '#3a8ff0', 4, 8);
    arrow(ctx, px(58.75), py(1940.7), px(58.75), py(1939.5), '#000', 4, 9);
    ctx.fillStyle = '#000';
    ctx.beginPath(); ctx.moveTo(px(58.5), py(1938.75)); ctx.lineTo(px(60.5), py(1939.1)); ctx.lineTo(px(60.5), py(1938.4)); ctx.fill();
    // note box
    const bx0 = px(16), bx1 = px(44), by0 = py(1918.84), by1 = py(1915.89);
    ctx.fillStyle = '#fff'; ctx.fillRect(bx0, by0, bx1 - bx0, by1 - by0);
    ctx.strokeStyle = '#1a1a8c'; ctx.lineWidth = 1; ctx.strokeRect(bx0 + 0.5, by0 + 0.5, bx1 - bx0, by1 - by0);
    ctx.fillStyle = '#000'; ctx.font = '13px ' + FONT;
    ['All Energy', 'favoring LONG', 'on STC Morning'].forEach((t, i) =>
      ctx.fillText(t, (bx0 + bx1) / 2, by0 + 8 + i * 14));
    // fib labels
    ctx.textAlign = 'left'; ctx.textBaseline = 'bottom'; ctx.font = '13px ' + FONT;
    fibPercents.forEach((p, i) => {
      ctx.fillStyle = fibStyle(p);
      ctx.fillText(p + '%   ' + fibPrices[i].toFixed(2), px(205.75), py(fibPrices[i]) + 1);
    });
    // connection message
    const msg = 'bled since either you are disconnected or current time is outside session time or chart end date';
    ctx.font = '20px ' + FONT;
    const size = 20 * 909 / ctx.measureText(msg).width;
    ctx.font = size.toFixed(2) + 'px ' + FONT;
    ctx.fillStyle = '#111'; ctx.textBaseline = 'alphabetic';
    ctx.fillText(msg, a.left - 1, a.bottom - 16);
    ctx.restore();
  },
  afterDraw(chart) {
    axisBox(chart, 1931.7, last(longAvg)[1].toFixed(2), '#3a96f2', '#fff');
    axisBox(chart, 1927.87, last(slowAvg)[1].toFixed(2), '#b8862b', '#000');
    axisBox(chart, 1919.25, '1919.25', '#777', '#000');
    axisBox(chart, last(closes), last(closes).toFixed(2), '#000', '#fff');
  }
};

const priceTicks = [];
for (let v = 1907; v <= 1945; v++) priceTicks.push(v);

const priceOpts = baseOptions(1906.79, 1945.94, {
  afterBuildTicks: s => { s.ticks = priceTicks.map(v => ({ value: v })); },
  grid: { drawOnChartArea: true, color: '#e2e2e2', drawTicks: true, tickLength: 6,
          tickColor: c => (c.tick && c.tick.value % 2 === 0) ? '#000' : 'rgba(0,0,0,0)' },
  ticks: { display: true, autoSkip: false, padding: 2, color: '#000', font: { size: 13 },
           callback: v => v % 2 === 0 ? v.toFixed(2) : '' }
});

new Chart(document.getElementById('price'), {
  type: 'bar',
  data: {
    datasets: [
      { type: 'line', data: xy(fastAvg), borderColor: '#111', borderWidth: 1.6, pointRadius: 0, cubicInterpolationMode: 'monotone', order: 1 },
      { type: 'line', data: xy(midAvg), borderColor: '#36dc36', borderWidth: 2, pointRadius: 0, cubicInterpolationMode: 'monotone', order: 2,
        segment: { borderColor: c => c.p1.parsed.y >= c.p0.parsed.y ? '#36dc36' : '#9a9a9a' } },
      { type: 'line', data: xy(slowAvg), borderColor: '#b8862b', borderWidth: 2.6, pointRadius: 0, cubicInterpolationMode: 'monotone', order: 3 },
      { type: 'line', data: xy(longAvg), borderColor: '#3d8fe8', borderWidth: 1.6, pointRadius: 0, cubicInterpolationMode: 'monotone', order: 4 },
      { data: bars.map(i => ({ x: i, y: [opens[i], closes[i]] })),
        backgroundColor: bars.map(i => closes[i] >= opens[i] ? '#a8dd9c' : '#7a7a7a'),
        borderColor: '#262626', borderWidth: 0.8, borderSkipped: false,
        barThickness: 3.6, minBarLength: 1, grouped: false, order: 5 },
      { data: bars.map(i => ({ x: i, y: [lows[i], highs[i]] })),
        backgroundColor: '#262626', barThickness: 1, grouped: false, order: 6 }
    ]
  },
  options: priceOpts,
  plugins: [priceOverlay]
});

// ---------------- volume panel ----------------
new Chart(document.getElementById('volume'), {
  type: 'bar',
  data: {
    datasets: [
      { type: 'line', data: volumeDotBars.map((b, i) => ({ x: b, y: volumeDotValues[i] })), showLine: false,
        pointRadius: 3.5, pointBackgroundColor: '#1414b4', pointBorderWidth: 0, order: 1 },
      { data: bars.map(i => ({ x: i, y: volumes[i] })), backgroundColor: '#1d1d9c', barThickness: 2, grouped: false, order: 2 }
    ]
  },
  options: baseOptions(-7100, 47000),
  plugins: [{
    id: 'volBase',
    beforeDatasetsDraw(chart) {
      clipArea(chart);
      hline(chart, 0, chart.chartArea.left, chart.chartArea.right, '#c8c8c8', 1);
      chart.ctx.restore();
    },
    afterDraw(chart) { axisBox(chart, last(volumes), String(last(volumes)), '#2f7ff0', '#fff'); }
  }]
});

// ---------------- oscillator panel ----------------
new Chart(document.getElementById('osc'), {
  type: 'line',
  data: {
    datasets: [
      { data: xy(oscValues), borderWidth: 2, pointRadius: 0, tension: 0.4, borderColor: '#36dc36',
        segment: { borderColor: c => c.p1.parsed.y >= c.p0.parsed.y ? '#36dc36' : '#8e8e8e' } }
    ]
  },
  options: baseOptions(-18, 120.7, {
    afterBuildTicks: s => { s.ticks = [{ value: 0 }, { value: 100 }]; },
    grid: { drawOnChartArea: false, drawTicks: true, tickLength: 6, tickColor: '#000' },
    ticks: { display: true, padding: 2, color: '#000', font: { size: 12 } }
  }),
  plugins: [{
    id: 'oscLevels',
    beforeDatasetsDraw(chart) {
      const a = chart.chartArea;
      clipArea(chart);
      const colors = ['#888', '#888', '#2b7a2b', '#2b7a2b', '#d0d0d0'];
      oscLevels.forEach((v, i) => hline(chart, v, a.left, a.right, colors[i], 1));
      chart.ctx.restore();
    },
    afterDatasetsDraw(chart) {
      const { ctx, scales: { x, y } } = chart;
      clipArea(chart);
      ctx.strokeStyle = '#1f2bd0'; ctx.lineWidth = 2;
      oscDivergence.forEach(([b0, v0, b1, v1]) => {
        ctx.beginPath(); ctx.moveTo(x.getPixelForValue(b0), y.getPixelForValue(v0));
        ctx.lineTo(x.getPixelForValue(b1), y.getPixelForValue(v1)); ctx.stroke();
      });
      ctx.restore();
    },
    afterDraw(chart) { axisBox(chart, last(oscValues)[1], last(oscValues)[1].toFixed(2), '#46d846', '#000'); }
  }]
});

// ---------------- swing panel ----------------
const hatch = (() => {
  const c = document.createElement('canvas'); c.width = 3; c.height = 3;
  const g = c.getContext('2d'); g.fillStyle = '#222'; g.fillRect(0, 0, 1, 2);
  return g.createPattern(c, 'repeat');
})();
new Chart(document.getElementById('hist'), {
  type: 'line',
  data: {
    datasets: [
      { data: xy(swingGreen), borderColor: '#3be03b', borderWidth: 2.5, pointRadius: 0, tension: 0.3,
        fill: { target: 1 }, backgroundColor: hatch, order: 1 },
      { data: xy(swingGray), borderColor: '#8e8e8e', borderWidth: 2.5, pointRadius: 0, tension: 0.3, order: 2 }
    ]
  },
  options: baseOptions(-2.4, 2.5),
  plugins: [{
    id: 'swingOverlay',
    beforeDatasetsDraw(chart) {
      clipArea(chart);
      hline(chart, 0, chart.chartArea.left, chart.chartArea.right, '#000', 1);
      chart.ctx.restore();
    },
    afterDatasetsDraw(chart) {
      const { ctx, scales: { x, y } } = chart;
      clipArea(chart);
      ctx.font = 'bold 15px ' + FONT; ctx.textAlign = 'center'; ctx.textBaseline = 'middle';
      swingLabels.forEach(([t, b, v, c]) => {
        ctx.fillStyle = c === 'b' ? '#1a1ab4' : '#8c8c8c';
        ctx.fillText(t, x.getPixelForValue(b), y.getPixelForValue(v));
      });
      ctx.restore();
    },
    afterDraw(chart) { axisBox(chart, -0.416, '-0.416', '#4a4a4a', '#fff'); }
  }]
});

// ---------------- signal panel with time axis ----------------
const markOpts = baseOptions(0, 1);
markOpts.scales.x = {
  type: 'linear', min: X_MIN, max: X_MAX, offset: false, display: true,
  afterBuildTicks: s => { s.ticks = timeLabels.map(t => ({ value: (toMin(t) - barStart) / barMinutes })); },
  afterFit: s => { s.height = 33; noPad(s); },
  border: { display: false },
  grid: { drawOnChartArea: false, drawTicks: true, tickLength: 4, color: '#000', offset: false },
  ticks: { autoSkip: false, maxRotation: 0, padding: 2, color: '#000', font: { size: 12.5 }, callback: v => timeOf(v) }
};
new Chart(document.getElementById('marks'), {
  type: 'bar',
  data: {
    datasets: [
      { data: signalBars.map(b => ({ x: b, y: [0.18, 0.76] })), backgroundColor: '#f5a623', barThickness: 3, grouped: false }
    ]
  },
  options: markOpts,
  plugins: [{
    id: 'markOverlay',
    afterDatasetsDraw(chart) {
      const { ctx, chartArea: a } = chart;
      clipArea(chart);
      ctx.font = '11px ' + FONT; ctx.fillStyle = '#333'; ctx.textBaseline = 'middle';
      ctx.fillText('\u00a9 2015 NinjaTrader, LLC', a.left, a.top + 11);
      ctx.restore();
    },
    afterDraw(chart) { axisBox(chart, 0.15, '0', '#f5a623', '#000'); }
  }]
});
</script>
</body>
</html>
